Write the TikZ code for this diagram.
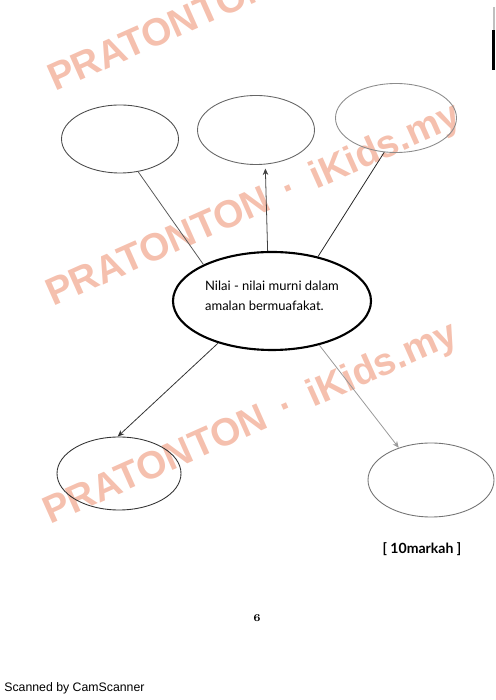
\documentclass[tikz,border=0pt]{standalone}
\usepackage{fontspec}
\usepackage{tikz}
\usetikzlibrary{arrows.meta}
\usetikzlibrary{shapes.geometric}
\newfontfamily\comicfont{Lato}
\newfontfamily\markfont{Liberation Sans}
\definecolor{watermark}{RGB}{245,192,174}
\tikzset{
    bubble/.style={
        draw=black!70,
        ellipse,
        inner sep=0pt,
        line width=0.5pt
    },
    link/.style={
        draw=black!65,
        line width=0.45pt
    },
    linkarrow/.style={
        link,
        -{Stealth[length=1.3mm, width=1.1mm]}
    }
}

\begin{document}
\begin{tikzpicture}
  \useasboundingbox (0,0) rectangle (9.9,14);
  \clip (0,0) rectangle (9.9,14);

  % Watermark repeated down the page
  \foreach \y/\x in {12.16/1.10, 7.86/1.06, 3.50/1.00} {
    \node[anchor=base west, rotate=24, inner sep=0pt, text=watermark,
          font=\markfont\bfseries\fontsize{22}{22}\selectfont]
      at (\x,\y) {PRATONTON \,\textperiodcentered\, iKids.my};
  }

  % Main bubble
  \node[bubble, draw=black, line width=1.2pt, minimum width=3.96cm, minimum height=1.96cm,
        label={[align=left, yshift=0.1cm, font=\comicfont\fontsize{7.4}{11.2}\selectfont]center:Nilai - nilai murni dalam\\amalan bermuafakat.}]
    (nilai) at (5.44,7.98) {};

  % Empty answer bubbles
  \node[bubble, minimum width=2.34cm, minimum height=1.36cm] (kiriatas) at (2.40,11.22) {};
  \node[bubble, draw=black!60, minimum width=2.34cm, minimum height=1.38cm] (tengah) at (5.12,11.40) {};
  \node[bubble, draw=black!45, minimum width=2.42cm, minimum height=1.38cm] (kananatas) at (7.92,11.64) {};
  \node[bubble, draw=black!80, minimum width=2.48cm, minimum height=1.46cm] (kiribawah) at (2.38,4.53) {};
  \node[bubble, draw=black!55, minimum width=2.52cm, minimum height=1.48cm] (kananbawah) at (8.62,4.40) {};

  % Connectors
  \draw[link] (nilai.152) -- (kiriatas.-61);
  \draw[linkarrow, draw=black!75, shorten >=0.08cm] (nilai.95) -- (tengah.-75);
  \draw[link, draw=black!85] (nilai.44) -- (kananatas.-109);
  \draw[linkarrow, draw=black!80] (nilai.-142) -- (kiribawah.92);
  \draw[linkarrow, draw=black!40] (nilai.-43) -- (kananbawah.135);

  % Marks, page number and scanner note
  \node[font=\comicfont\bfseries\fontsize{8}{8}\selectfont] (markah) at (8.44,3.02) {[ 10markah ]};
  \node[font=\bfseries\fontsize{6}{6}\selectfont] (halaman) at (5.14,1.64) {6};
  \node[anchor=west, inner sep=0pt, font=\markfont\fontsize{7}{7}\selectfont] (scan) at (0.08,0.24) {Scanned by CamScanner};

  % Scanner edge mark
  \fill[black] (9.83,12.60) rectangle (9.9,13.40);
  \fill[black!25] (9.85,13.40) rectangle (9.9,13.86);
\end{tikzpicture}
\end{document}
